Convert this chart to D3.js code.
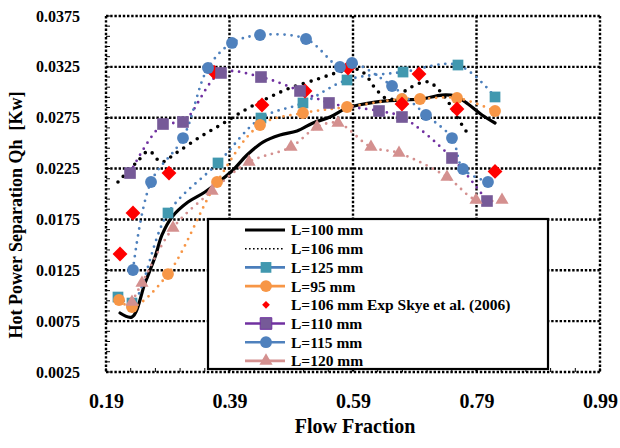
<!DOCTYPE html>
<html>
<head>
<meta charset="utf-8">
<script src="https://cdn.jsdelivr.net/npm/d3@7"></script>
<style>
  html, body { margin: 0; padding: 0; background: #fff; }
  svg { display: block; }
  text { font-family: "Liberation Serif", "Times New Roman", serif; font-weight: bold; fill: #000; }
</style>
</head>
<body>
<svg id="chart" width="620" height="448"></svg>
<script>
// ---- data ----
const xTickValues = [0.19, 0.39, 0.59, 0.79, 0.99];
const yTickValues = [0.0025, 0.0075, 0.0125, 0.0175, 0.0225, 0.0275, 0.0325, 0.0375];

const L100x = [0.2127,0.2321,0.2532,0.2694,0.2807,0.2969,0.3228,0.3503,0.3940,0.4183,0.4442,0.4718,0.4993,0.5252,0.5528,0.5803,0.6256,0.6693,0.7017,0.7341,0.7552,0.7762,0.7989,0.8200];
const L100y = [0.00830,0.00791,0.01125,0.01380,0.01597,0.01774,0.01921,0.02020,0.02226,0.02383,0.02511,0.02580,0.02619,0.02698,0.02757,0.02845,0.02904,0.02924,0.02934,0.02973,0.02963,0.02885,0.02777,0.02698];

const L106x = [0.2094,0.2402,0.2596,0.2791,0.3034,0.3422,0.3779,0.4151,0.4523,0.4880,0.5333,0.5625,0.5949,0.6094,0.6256,0.6451,0.6612,0.6742,0.6985,0.7131,0.7260,0.7422,0.7584,0.7730];
const L106y = [0.02118,0.02315,0.02423,0.02315,0.02403,0.02560,0.02688,0.02826,0.02944,0.03042,0.03131,0.03190,0.03229,0.03180,0.03042,0.02934,0.02944,0.03013,0.03091,0.03101,0.03042,0.02924,0.02757,0.02619];

const L125x = [0.2094,0.2321,0.2904,0.3714,0.4410,0.5090,0.5803,0.6710,0.7600,0.8200];
const L125y = [0.00987,0.00928,0.01813,0.02305,0.02747,0.02895,0.03121,0.03199,0.03268,0.02954];

const L95x = [0.2111,0.2321,0.2904,0.3698,0.4394,0.5090,0.5803,0.6693,0.6985,0.7584,0.8200];
const L95y = [0.00958,0.00889,0.01213,0.02118,0.02678,0.02796,0.02855,0.02934,0.02934,0.02944,0.02816];

const expX = [0.2127,0.2337,0.2920,0.3649,0.4426,0.5123,0.5819,0.6693,0.6969,0.7584,0.8200];
const expY = [0.01410,0.01813,0.02206,0.03199,0.02875,0.03013,0.03239,0.02885,0.03180,0.02836,0.02222];

const L110x = [0.2289,0.2823,0.3147,0.3762,0.4410,0.5042,0.5511,0.6321,0.6693,0.7503,0.8070];
const L110y = [0.02206,0.02688,0.02708,0.03190,0.03150,0.03013,0.02895,0.02816,0.02757,0.02354,0.01931];

const L115x = [0.2337,0.2629,0.3147,0.3552,0.3940,0.4394,0.5139,0.5689,0.5884,0.6532,0.7082,0.7503,0.7681,0.8086];
const L115y = [0.01253,0.02118,0.02550,0.03239,0.03485,0.03563,0.03524,0.03249,0.03288,0.03062,0.02777,0.02550,0.02246,0.02118];

const L120x = [0.2321,0.2483,0.2985,0.3617,0.4216,0.4896,0.5317,0.5657,0.6191,0.6645,0.7422,0.7892,0.8313];
const L120y = [0.00938,0.01125,0.01666,0.02029,0.02315,0.02462,0.02659,0.02698,0.02462,0.02403,0.02167,0.01941,0.01941];

const legendLabels = ["L=100 mm","L=106 mm","L=125 mm","L=95 mm","L=106 mm Exp Skye et al. (2006)","L=110 mm","L=115 mm","L=120 mm"];

// ---- setup ----
const W = 620, H = 448;
const m = {left: 106, right: 20, top: 16, bottom: 76};
const svg = d3.select("#chart");
const x = d3.scaleLinear().domain([0.19, 0.99]).range([m.left, W - m.right]);
const y = d3.scaleLinear().domain([0.0025, 0.0375]).range([H - m.bottom, m.top]);

const zip = (xs, ys) => xs.map((v, i) => [v, ys[i]]);

const series = [
  {name: legendLabels[0], data: zip(L100x, L100y), line: "#000", lw: 3.2, dash: null, marker: null},
  {name: legendLabels[1], data: zip(L106x, L106y), line: "#000", lw: 3.6, dash: "0 8", marker: null},
  {name: legendLabels[2], data: zip(L125x, L125y), line: "#4A7EBB", lw: 2.8, dash: "0 7", marker: "square", fill: "#4198AF", size: 115},
  {name: legendLabels[3], data: zip(L95x, L95y), line: "#F79646", lw: 2.8, dash: "0 7", marker: "circle", fill: "#F79646", size: 110},
  {name: legendLabels[4], data: zip(expX, expY), line: null, marker: "diamond", fill: "#FF0000", size: 110},
  {name: legendLabels[5], data: zip(L110x, L110y), line: "#7030A0", lw: 2.8, dash: "0 7", marker: "square", fill: "#765A98", size: 135},
  {name: legendLabels[6], data: zip(L115x, L115y), line: "#4F81BD", lw: 2.8, dash: "0 7", marker: "circle", fill: "#4F81BD", size: 110},
  {name: legendLabels[7], data: zip(L120x, L120y), line: "#D4908F", lw: 2.8, dash: "0 7", marker: "triangle", fill: "#D4908F", size: 75}
];

// ---- grid & frame ----
const grid = svg.append("g").attr("stroke", "#000").attr("stroke-width", 2.4).attr("stroke-dasharray", "2.4 1.8").attr("fill", "none");
yTickValues.forEach(v => {
  grid.append("line").attr("x1", m.left).attr("x2", W - m.right).attr("y1", y(v)).attr("y2", y(v));
});
xTickValues.forEach(v => {
  grid.append("line").attr("x1", x(v)).attr("x2", x(v)).attr("y1", m.top).attr("y2", H - m.bottom);
});

// minor ticks
const minor = svg.append("g").attr("stroke", "#000").attr("stroke-width", 1);
d3.range(0.0025, 0.03751, 0.001).forEach(v => {
  minor.append("line").attr("x1", m.left).attr("x2", m.left + 4).attr("y1", y(v)).attr("y2", y(v));
});
d3.range(0.19, 0.991, 0.04).forEach(v => {
  minor.append("line").attr("x1", x(v)).attr("x2", x(v)).attr("y1", H - m.bottom).attr("y2", H - m.bottom - 4);
});

// ---- axes (labels) ----
const yAxis = svg.append("g").attr("transform", `translate(${m.left},0)`)
  .call(d3.axisLeft(y).tickValues(yTickValues).tickFormat(d3.format(".4f")).tickSize(0).tickPadding(26));
yAxis.select(".domain").remove();
yAxis.selectAll("text").style("font-size", "16px").style("font-family", "Liberation Serif").style("font-weight", "bold");

const xAxis = svg.append("g").attr("transform", `translate(0,${H - m.bottom})`)
  .call(d3.axisBottom(x).tickValues(xTickValues).tickFormat(d3.format(".2f")).tickSize(0).tickPadding(22));
xAxis.select(".domain").remove();
xAxis.selectAll("text").style("font-size", "20px").style("font-family", "Liberation Serif").style("font-weight", "bold");

// titles
svg.append("text").attr("x", 355).attr("y", 433).attr("text-anchor", "middle")
  .style("font-size", "20px").text("Flow Fraction");
svg.append("text").attr("transform", "translate(22,215) rotate(-90)").attr("text-anchor", "middle")
  .style("font-size", "18px").style("white-space", "pre").text("Hot Power Separation Qh  [Kw]");

// ---- series lines ----
const lineGen = d3.line().x(d => x(d[0])).y(d => y(d[1])).curve(d3.curveCatmullRom.alpha(0.5));
const plot = svg.append("g");
series.forEach(s => {
  if (!s.line) return;
  const p = plot.append("path").datum(s.data).attr("d", lineGen)
    .attr("fill", "none").attr("stroke", s.line).attr("stroke-width", s.lw)
    .attr("stroke-linecap", "round").attr("stroke-linejoin", "round");
  if (s.dash) p.attr("stroke-dasharray", s.dash);
});

// ---- markers ----
function symbolPath(type, size) {
  if (type === "square" || type === "diamond") return d3.symbol(d3.symbolSquare, size)();
  if (type === "circle") return d3.symbol(d3.symbolCircle, size)();
  if (type === "triangle") return d3.symbol(d3.symbolTriangle, size)();
  return null;
}
series.forEach(s => {
  if (!s.marker) return;
  plot.append("g").selectAll("path").data(s.data).join("path")
    .attr("d", symbolPath(s.marker, s.size))
    .attr("transform", d => `translate(${x(d[0])},${y(d[1])})${s.marker === "diamond" ? " rotate(45)" : ""}`)
    .attr("fill", s.fill);
});

// ---- legend ----
const lg = svg.append("g");
lg.append("rect").attr("x", 208).attr("y", 219).attr("width", 340).attr("height", 150)
  .attr("fill", "#fff").attr("stroke", "#000").attr("stroke-width", 2.2);
series.forEach((s, i) => {
  const cy = 230 + i * 18.7;
  const row = lg.append("g");
  if (s.line) {
    const l = row.append("line").attr("x1", 245).attr("x2", 285).attr("y1", cy).attr("y2", cy)
      .attr("stroke", s.line);
    if (i === 1) l.attr("stroke-width", 1.6).attr("stroke-dasharray", "1.6 2.4");
    else l.attr("stroke-width", i === 0 ? 3 : 2.6);
  }
  if (s.marker) {
    const sz = s.marker === "diamond" ? 30 : s.size;
    row.append("path").attr("d", symbolPath(s.marker, sz))
      .attr("transform", `translate(266,${cy})${s.marker === "diamond" ? " rotate(45)" : ""}`)
      .attr("fill", s.fill)
      .attr("stroke", s.marker === "square" && i === 5 ? "#7030A0" : "none");
  }
  row.append("text").attr("x", 291).attr("y", cy).attr("dy", "0.35em")
    .style("font-size", "15.5px").text(s.name);
});
</script>
</body>
</html>
